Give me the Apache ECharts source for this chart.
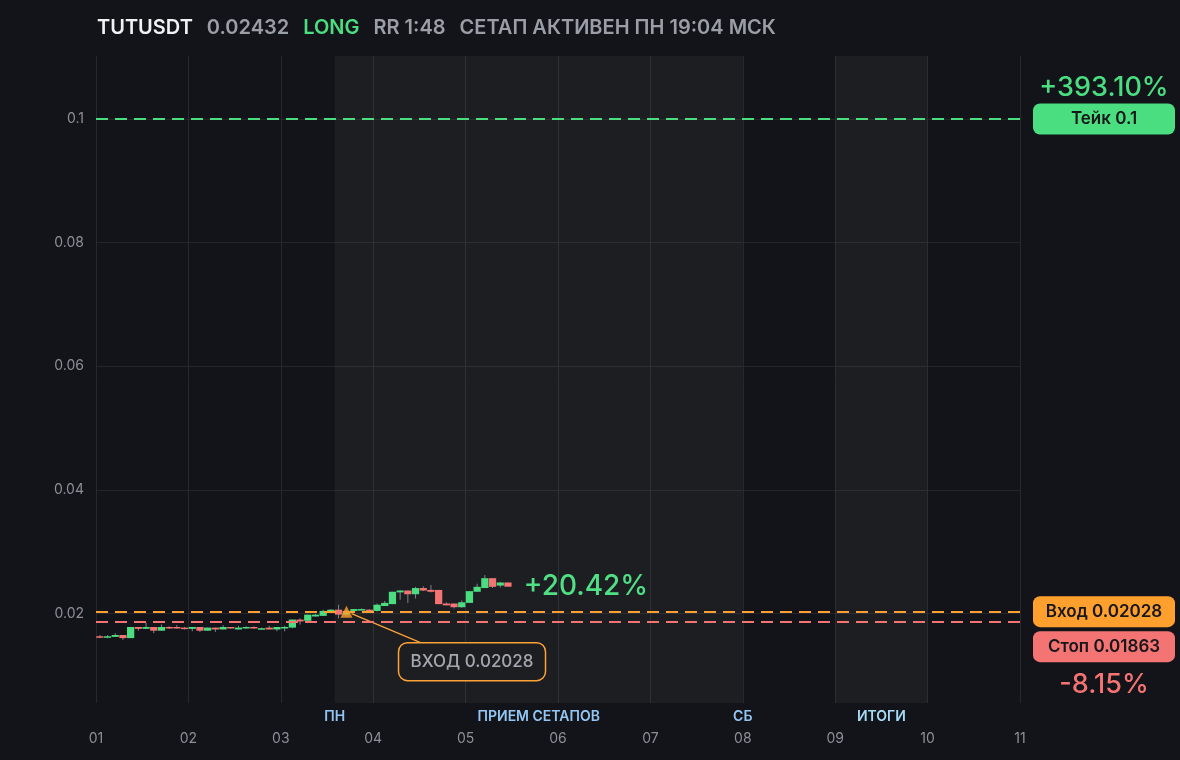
<!DOCTYPE html>
<html><head><meta charset="utf-8">
<script src="https://cdn.jsdelivr.net/npm/echarts@6/dist/echarts.min.js"></script>
<style>html,body{margin:0;padding:0;background:#131419;}#c{width:1180px;height:760px;}</style>
</head><body><div id="c"></div>
<script>
// ---- data ----
const titleParts = ['TUTUSDT', '0.02432', 'LONG', 'RR 1:48', 'СЕТАП АКТИВЕН ПН 19:04 МСК'];
const dayTicks = [1, 2, 3, 4, 5, 6, 7, 8, 9, 10, 11];
const candleStart = 1;          // day 01 00:00
const candleStepDays = 2 / 24;  // 2h candles
const opens  = [0.0163,0.0161,0.0162,0.0165,0.0160,0.0178,0.0175,0.0178,0.0172,0.0178,0.0178,0.0177,0.0175,0.0178,0.0172,0.0177,0.0174,0.0178,0.0174,0.0176,0.0178,0.0174,0.0177,0.0174,0.0176,0.0177,0.0190,0.0188,0.0195,0.0196,0.0204,0.0206,0.0198,0.0204,0.0206,0.0206,0.0204,0.0212,0.0215,0.0234,0.0237,0.0231,0.0241,0.0238,0.0238,0.0216,0.0216,0.0210,0.0217,0.0235,0.0241,0.0257,0.0245,0.0250];
const closes = [0.0161,0.0163,0.0165,0.0160,0.0178,0.0175,0.0178,0.0172,0.0178,0.0176,0.0176,0.0175,0.0178,0.0172,0.0177,0.0174,0.0178,0.0176,0.0177,0.0178,0.0176,0.0176,0.0174,0.0178,0.0178,0.0190,0.0187,0.0198,0.0198,0.0204,0.0206,0.0198,0.0204,0.0207,0.0207,0.0203,0.0214,0.0217,0.0235,0.0237,0.0231,0.0241,0.0237,0.0235,0.0215,0.0213,0.0210,0.0218,0.0236,0.0243,0.0257,0.0243,0.0250,0.02432];
const lows   = [0.0160,0.0160,0.0162,0.0157,0.0160,0.0172,0.0175,0.0168,0.0172,0.0175,0.0175,0.0174,0.0171,0.0170,0.0172,0.0170,0.0174,0.0175,0.0174,0.0175,0.0175,0.0174,0.0174,0.0171,0.0171,0.0176,0.0182,0.0187,0.0195,0.0196,0.0203,0.0192,0.0197,0.0203,0.0205,0.0202,0.0203,0.0212,0.0215,0.0222,0.0217,0.0224,0.0236,0.0234,0.0215,0.0213,0.0208,0.0209,0.0217,0.0235,0.0241,0.0241,0.0242,0.0244];
const highs  = [0.0165,0.0165,0.0168,0.0165,0.0178,0.0178,0.0185,0.0178,0.0182,0.0179,0.0181,0.0178,0.0178,0.0178,0.0177,0.0177,0.0181,0.0178,0.0180,0.0179,0.0179,0.0177,0.0180,0.0178,0.0180,0.0190,0.0192,0.0198,0.0199,0.0206,0.0207,0.0214,0.0205,0.0207,0.0208,0.0207,0.0216,0.0220,0.0235,0.0238,0.0237,0.0243,0.0244,0.0246,0.0238,0.0218,0.0216,0.0221,0.0236,0.0248,0.0262,0.0257,0.0251,0.0250];
const entryTime = 3 + 17.07 / 24;
const entryPrice = 0.02028;
const stopPrice = 0.01863;
const takePrice = 0.1;
const bandRanges = [[3 + 14 / 24, 8], [9, 10]];
const bandLabels = ['ПРИЕМ СЕТАПОВ', 'ИТОГИ'];
const edgeMarks = [3 + 14 / 24, 8];
const edgeLabels = ['ПН', 'СБ'];
const takeText = 'Тейк 0.1', entryText = 'Вход 0.02028', stopText = 'Стоп 0.01863';
const takePct = '+393.10%', stopPct = '-8.15%', livePct = '+20.42%';
const calloutText = 'ВХОД 0.02028';

// ---- styles ----
const GREEN = '#4ade80', RED = '#f47373', ORANGE = '#ff9f2e', GRAY = '#8b9099';
const FONT = 'Inter, "Noto Sans", sans-serif';

const candleData = opens.map((o, i) => [candleStart + (i + 0.5) * candleStepDays, o, closes[i], lows[i], highs[i]]);

function renderCandle(params, api) {
  const x = api.value(0), o = api.value(1), c = api.value(2), l = api.value(3), h = api.value(4);
  const pO = api.coord([x, o]), pC = api.coord([x, c]), pL = api.coord([x, l]), pH = api.coord([x, h]);
  const w = api.size([candleStepDays, 0])[0] * 0.94;
  const top = Math.min(pO[1], pC[1]);
  const bh = Math.max(Math.abs(pO[1] - pC[1]), 1.5);
  return { type: 'group', children: [
    { type: 'line', shape: { x1: pO[0], y1: pH[1], x2: pO[0], y2: pL[1] }, style: { stroke: '#7f838b', lineWidth: 1 } },
    { type: 'rect', shape: { x: pO[0] - w / 2, y: top, width: w, height: bh }, style: { fill: c >= o ? GREEN : RED } }
  ]};
}

const chart = echarts.init(document.getElementById('c'), null, { renderer: 'canvas' });
chart.setOption({
  backgroundColor: '#131419',
  animation: false,
  textStyle: { fontFamily: FONT },
  title: {
    left: 97, top: 18, padding: 0,
    text: `{w|${titleParts[0]}}{g|${titleParts[1]}}{l|${titleParts[2]}}{g|${titleParts[3]}}{e|${titleParts[4]}}`,
    textStyle: { rich: {
      w: { color: '#f1f2f4', fontSize: 20, fontWeight: 600, fontFamily: FONT, padding: [0, 14, 0, 0] },
      g: { color: '#9a9ea6', fontSize: 20, fontWeight: 600, fontFamily: FONT, padding: [0, 14, 0, 0] },
      l: { color: GREEN, fontSize: 20, fontWeight: 600, fontFamily: FONT, padding: [0, 14, 0, 0] },
      e: { color: '#9a9ea6', fontSize: 20, fontWeight: 600, fontFamily: FONT }
    } }
  },
  grid: { left: 96, right: 160, top: 56, bottom: 57 },
  xAxis: {
    type: 'value', min: dayTicks[0], max: dayTicks[dayTicks.length - 1], interval: 1,
    axisLine: { show: false }, axisTick: { show: false },
    splitLine: { show: true, lineStyle: { color: '#26282e', width: 1 } },
    axisLabel: { color: GRAY, fontSize: 14, margin: 29, fontFamily: FONT,
      formatter: v => String(v).padStart(2, '0') }
  },
  yAxis: {
    type: 'value', min: 0.0055, max: 0.1102, splitNumber: 5,
    axisLine: { show: false }, axisTick: { show: false },
    splitLine: { show: true, showMinLine: false, showMaxLine: false, lineStyle: { color: '#23252a', width: 1 } },
    axisLabel: { color: GRAY, fontSize: 14, margin: 12, fontFamily: FONT, showMinLabel: false, showMaxLabel: false,
      formatter: v => String(+v.toFixed(4)) }
  },
  series: [
    {
      type: 'line', data: [], z: 1, silent: true,
      markArea: {
        silent: true,
        itemStyle: { color: 'rgba(255,255,255,0.045)' },
        label: { show: false },
        data: bandRanges.map(r => [{ xAxis: r[0] }, { xAxis: r[1] }])
      }
    },
    {
      type: 'custom', z: 3, renderItem: renderCandle, data: candleData,
      encode: { x: 0, y: [1, 2, 3, 4] }, silent: true
    },
    {
      type: 'scatter', z: 5, silent: true,
      data: [[entryTime, entryPrice]],
      symbol: 'triangle', symbolSize: [12, 12],
      itemStyle: { color: ORANGE },
      markLine: {
        silent: true, symbol: ['none', 'none'], label: { show: false }, precision: 6,
        lineStyle: { type: [12, 7], width: 2 },
        data: [
          { yAxis: takePrice, lineStyle: { color: GREEN } },
          { yAxis: entryPrice, lineStyle: { color: ORANGE } },
          { yAxis: stopPrice, lineStyle: { color: RED } }
        ]
      }
    }
  ]
});

// ---- annotations placed through the chart's own scales ----
const px = (x, y) => chart.convertToPixel({ gridIndex: 0 }, [x, y]);
const pE = px(entryTime, entryPrice);
const lastIdx = closes.length - 1;
const pLast = px(candleData[lastIdx][0] + candleStepDays / 2, closes[lastIdx]);
const takeY = px(1, takePrice)[1];
const entryY = px(1, entryPrice)[1];
const gridRight = px(dayTicks[dayTicks.length - 1], takePrice)[0];
const gridBottom = px(1, 0.0055)[1];
const boxX = gridRight + 13, boxW = 142, boxH = 31;

const g = [];
bandRanges.forEach((r, i) => {
  const cx = (px(r[0], 0.02)[0] + px(r[1], 0.02)[0]) / 2;
  g.push({ type: 'text', x: cx, y: gridBottom + 14, style: { text: bandLabels[i], fill: i === 1 ? '#a6dbf6' : '#93c6f5', font: `600 14px ${FONT}`, textAlign: 'center', textVerticalAlign: 'middle' } });
});
edgeMarks.forEach((m, i) => {
  g.push({ type: 'text', x: px(m, 0.02)[0], y: gridBottom + 14, style: { text: edgeLabels[i], fill: '#93c6f5', font: `600 14px ${FONT}`, textAlign: 'center', textVerticalAlign: 'middle' } });
});
g.push({ type: 'text', x: pLast[0] + 12, y: pLast[1], style: { text: livePct, fill: GREEN, font: `500 28px ${FONT}`, textAlign: 'left', textVerticalAlign: 'middle' } });
g.push({ type: 'polyline', shape: { points: [[pE[0] + 5, pE[1] + 2], [pE[0] + 74, pE[1] + 31]] }, style: { stroke: ORANGE, lineWidth: 1.2, fill: null } });
g.push({ type: 'rect', shape: { x: pE[0] + 52, y: pE[1] + 31, width: 147, height: 38, r: 9 }, style: { fill: '#131419', stroke: ORANGE, lineWidth: 1.5 } });
g.push({ type: 'text', x: pE[0] + 125.5, y: pE[1] + 50, style: { text: calloutText, fill: '#a0a4ab', font: `500 17px ${FONT}`, textAlign: 'center', textVerticalAlign: 'middle' } });
function box(y, fill, text) {
  g.push({ type: 'rect', shape: { x: boxX, y: y, width: boxW, height: boxH, r: 7 }, style: { fill: fill } });
  g.push({ type: 'text', x: boxX + boxW / 2, y: y + boxH / 2, style: { text: text, fill: '#16171a', font: `600 17px ${FONT}`, textAlign: 'center', textVerticalAlign: 'middle' } });
}
g.push({ type: 'text', x: boxX + boxW / 2, y: takeY - 31, style: { text: takePct, fill: GREEN, font: `500 27px ${FONT}`, textAlign: 'center', textVerticalAlign: 'middle' } });
box(takeY - boxH / 2, GREEN, takeText);
const entryBoxY = entryY - boxH / 2;
box(entryBoxY, ORANGE, entryText);
const stopBoxY = entryBoxY + boxH + 4;
box(stopBoxY, RED, stopText);
g.push({ type: 'text', x: boxX + boxW / 2, y: stopBoxY + boxH + 23, style: { text: stopPct, fill: RED, font: `500 27px ${FONT}`, textAlign: 'center', textVerticalAlign: 'middle' } });

chart.setOption({ graphic: { elements: g } });
</script>
</body></html>
